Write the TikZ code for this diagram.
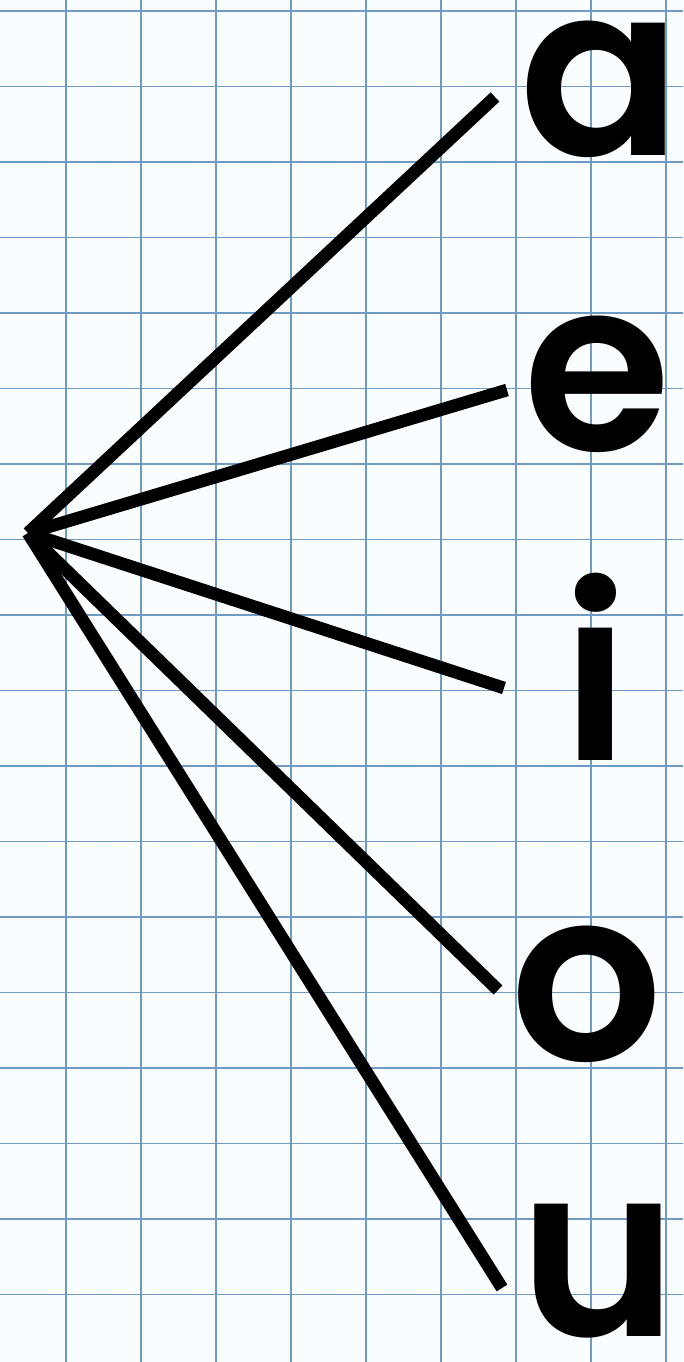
\documentclass[tikz,border=0pt]{standalone}
\usepackage{fontspec}
\newfontfamily\vowelfont{Poppins}[BoldFont=* SemiBold]
\usepackage{tikz}
\usetikzlibrary{positioning}
\definecolor{gridblue}{HTML}{6F9BC2}
\definecolor{pageblue}{HTML}{FAFDFF}

\tikzset{
  vowel/.style={anchor=base,inner sep=0pt,font=\vowelfont\bfseries\fontsize{136}{136}\selectfont},
  spoke/.style={line width=7.2pt,black},
  gridline/.style={draw=gridblue,line width=1.1pt}
}

\begin{document}
\begin{tikzpicture}[x=0.02cm,y=-0.02cm]
  % paper
  \fill[pageblue] (0,0) rectangle (683,1362);
  \useasboundingbox (0,0) rectangle (683,1362);
  \foreach \gx in {0,...,8}
    \draw[gridline] (66+75*\gx,0) -- (66+75*\gx,1362);
  \foreach \gy in {0,...,17}
    \draw[gridline] (0,11+75.5*\gy) -- (683,11+75.5*\gy);

  % vowels
  \node[vowel] (va) at (600,155) {a};
  \node[vowel] (ve) at (597,450) {e};
  \node[vowel] (vi) at (596,760) {i};
  \node[vowel] (vo) at (587,1060) {o};
  \node[vowel] (vu) at (598,1336) {u};

  % line ends
  \coordinate (hub) at (28,533);
  \coordinate (ea) at (495,97);
  \coordinate (ee) at (507,390);
  \coordinate (ei) at (504,688);
  \coordinate (eo) at (498,990);
  \coordinate (eu) at (502,1288);

  \foreach \e in {ea,ee,ei,eo,eu}
    \draw[spoke] (hub) -- (\e);
\end{tikzpicture}
\end{document}
